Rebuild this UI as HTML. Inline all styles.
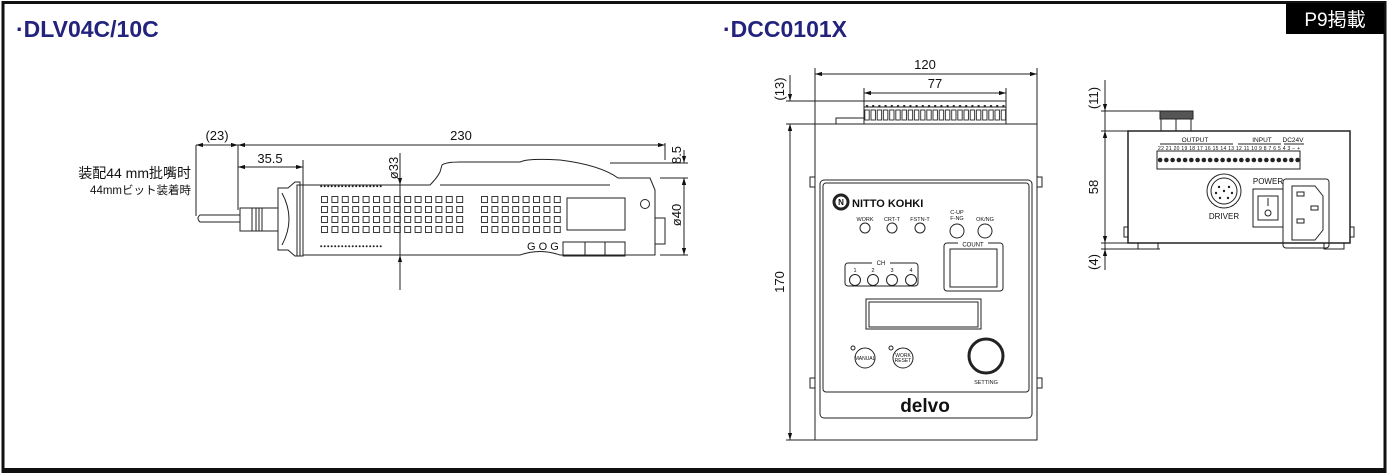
<!DOCTYPE html>
<html><head><meta charset="utf-8"><style>
html,body{margin:0;padding:0;background:#fff}
svg{display:block}
text{font-family:"Liberation Sans","Noto Sans CJK JP",sans-serif;fill:#111}
</style></head><body>
<svg width="1388" height="473" viewBox="0 0 1388 473" xmlns="http://www.w3.org/2000/svg">
<defs>
<pattern id="sq" x="321" y="196" width="10.4" height="10" patternUnits="userSpaceOnUse"><rect x="0.5" y="0.5" width="6" height="6" fill="none" stroke="#222" stroke-width="0.9"/></pattern>
<pattern id="sq2" x="481" y="196" width="10.4" height="10" patternUnits="userSpaceOnUse"><rect x="0.5" y="0.5" width="6" height="6" fill="none" stroke="#222" stroke-width="0.9"/></pattern>
<pattern id="dt" x="320" y="185" width="3.5" height="3" patternUnits="userSpaceOnUse"><circle cx="1.2" cy="1.2" r="1" fill="#222"/></pattern>
<pattern id="tb" x="864" y="104" width="6.2" height="20" patternUnits="userSpaceOnUse"><rect x="0.8" y="6" width="4.4" height="10" fill="none" stroke="#222" stroke-width="0.9"/><rect x="2" y="1" width="2" height="1.5" fill="#222"/></pattern>
<pattern id="ts" x="1157" y="151" width="6.25" height="18" patternUnits="userSpaceOnUse"><circle cx="3.1" cy="9" r="2.3" fill="#222"/></pattern>
<marker id="a" viewBox="0 0 10 10" refX="10" refY="5" markerWidth="7" markerHeight="7" orient="auto-start-reverse"><path d="M0,2 L10,5 L0,8z" fill="#111"/></marker>
</defs>
<rect x="3" y="2.5" width="1382" height="469" fill="none" stroke="#111" stroke-width="3"/>
<line x1="3" y1="469" x2="1385" y2="469" stroke="#111" stroke-width="2"/>
<rect x="1286" y="3" width="98" height="31" fill="#000"/>
<text x="1335" y="26" font-size="19" text-anchor="middle" style="fill:#fff">P9掲載</text>
<text x="16" y="37" font-size="23" font-weight="bold" style="fill:#23237e">·DLV04C/10C</text>
<text x="723" y="37" font-size="23" font-weight="bold" style="fill:#23237e">·DCC0101X</text>

<g stroke="#222" stroke-width="1" fill="none">
<line x1="196" y1="145" x2="196" y2="216"/><line x1="238" y1="145" x2="238" y2="210"/>
<line x1="196" y1="145" x2="238" y2="145" marker-start="url(#a)" marker-end="url(#a)"/>
<line x1="238" y1="145" x2="665" y2="145" marker-start="url(#a)" marker-end="url(#a)"/>
<line x1="303" y1="160" x2="303" y2="188"/>
<line x1="238" y1="167" x2="303" y2="167" marker-start="url(#a)" marker-end="url(#a)"/>
<line x1="400" y1="153" x2="400" y2="185" marker-end="url(#a)"/>
<line x1="400" y1="290" x2="400" y2="255" marker-end="url(#a)"/>
<line x1="400" y1="185" x2="400" y2="255"/>
<line x1="665" y1="143" x2="665" y2="160"/>
<line x1="610" y1="163" x2="688" y2="163"/><line x1="660" y1="178" x2="688" y2="178"/><line x1="660" y1="255" x2="688" y2="255"/>
<line x1="684" y1="150" x2="684" y2="163" marker-end="url(#a)"/>
<line x1="684" y1="190" x2="684" y2="178" marker-end="url(#a)"/>
<line x1="684" y1="178" x2="684" y2="255" marker-start="url(#a)" marker-end="url(#a)"/>
<path d="M240,215 L200,215 Q196,218 200,222 L240,222"/>
<rect x="240" y="208" width="38" height="23"/>
<line x1="252" y1="208" x2="252" y2="231"/><line x1="256" y1="208" x2="256" y2="231"/><line x1="259" y1="208" x2="259" y2="231"/><line x1="262" y1="208" x2="262" y2="231"/>
<path d="M278,188 L288,188 L295,182 L300,182 L300,256 L295,256 L288,250 L278,250 Z"/>
<path d="M282,193 Q296,219 282,245"/>
<rect x="297" y="185" width="6" height="71"/>
<path d="M303,185 L430,185 Q437,178 440,172 L442,165 Q446,162 460,162 L520,162 Q528,158 560,160 Q600,165 618,178 L650,178 L655,190 L655,255 L560,255 Q540,248 520,255 L303,255"/>
<path d="M440,185 L610,185"/>
<rect x="655" y="218" width="10" height="26"/>
<rect x="567" y="198" width="58" height="32"/>
<circle cx="645" cy="204" r="4.5"/>
<rect x="563" y="242" width="62" height="14"/>
<rect x="585" y="242" width="20" height="14"/>
</g>
<rect x="321" y="196" width="145" height="40" fill="url(#sq)"/>
<rect x="481" y="196" width="80" height="40" fill="url(#sq2)"/>
<rect x="320" y="185" width="62" height="3" fill="url(#dt)"/>
<rect x="320" y="245" width="62" height="3" fill="url(#dt)"/>
<text x="527" y="250" font-size="11">G O G</text>
<text x="217" y="140" font-size="13" text-anchor="middle">(23)</text>
<text x="461" y="140" font-size="13" text-anchor="middle">230</text>
<text x="270" y="163" font-size="13" text-anchor="middle">35.5</text>
<text transform="translate(398,168) rotate(-90)" font-size="13" text-anchor="middle">ø33</text>
<text transform="translate(681,155) rotate(-90)" font-size="13" text-anchor="middle">8.5</text>
<text transform="translate(681,215) rotate(-90)" font-size="13" text-anchor="middle">ø40</text>
<text x="191" y="178" font-size="14" text-anchor="end">装配44 mm批嘴时</text>
<text x="191" y="194" font-size="11.5" text-anchor="end">44mmビット装着時</text>

<g stroke="#222" stroke-width="1" fill="none">
<line x1="815" y1="68" x2="815" y2="124"/><line x1="1037" y1="68" x2="1037" y2="124"/>
<line x1="815" y1="74" x2="1037" y2="74" marker-start="url(#a)" marker-end="url(#a)"/>
<line x1="864" y1="88" x2="864" y2="101"/><line x1="1006" y1="88" x2="1006" y2="101"/>
<line x1="864" y1="93" x2="1006" y2="93" marker-start="url(#a)" marker-end="url(#a)"/>
<line x1="786" y1="101" x2="864" y2="101"/><line x1="786" y1="124" x2="815" y2="124"/><line x1="786" y1="440" x2="815" y2="440"/>
<line x1="790" y1="75" x2="790" y2="101"/>
<line x1="790" y1="90" x2="790" y2="101" marker-end="url(#a)"/>
<line x1="790" y1="135" x2="790" y2="124" marker-end="url(#a)"/>
<line x1="790" y1="124" x2="790" y2="440" marker-start="url(#a)" marker-end="url(#a)"/>
<rect x="815" y="124" width="222" height="316"/>
<rect x="864" y="101" width="142" height="23"/>
<line x1="864" y1="107" x2="1006" y2="107"/>
<path d="M836,124 L836,118 L864,118"/>
<path d="M810,177 h5 v10 h-5z M1037,177 h5 v10 h-5z M810,378 h5 v10 h-5z M1037,378 h5 v10 h-5z"/>
<rect x="820" y="180" width="212" height="238" rx="4"/>
<rect x="823" y="183" width="206" height="209" rx="3"/>
<circle cx="865" cy="228" r="5"/><circle cx="892" cy="228" r="5"/><circle cx="920" cy="228" r="5"/>
<circle cx="957" cy="231" r="7"/><circle cx="985" cy="231" r="7"/>
<rect x="944" y="243" width="59" height="48" rx="3"/><rect x="950" y="249" width="47" height="38"/>
<rect x="845" y="263" width="73" height="23" rx="3"/>
<circle cx="855" cy="280" r="5.5"/><circle cx="873" cy="280" r="5.5"/><circle cx="892" cy="280" r="5.5"/><circle cx="911" cy="280" r="5.5"/>
<rect x="866" y="299" width="115" height="30"/><rect x="869" y="302" width="109" height="25"/>
<circle cx="865" cy="358" r="10"/><circle cx="903" cy="358" r="10"/>
<circle cx="853" cy="348" r="2"/><circle cx="891" cy="348" r="2"/>
<circle cx="986" cy="356" r="17" stroke-width="3"/>
<circle cx="841" cy="202" r="7" stroke-width="3"/>
</g>
<rect x="864" y="104" width="142" height="20" fill="url(#tb)"/>
<g font-size="5.5" text-anchor="middle">
<text x="865" y="221">WORK</text><text x="892" y="221">CRT-T</text><text x="920" y="221">FSTN-T</text>
<text x="957" y="214">C-UP</text><text x="957" y="220">F-NG</text><text x="985" y="221">OK/NG</text>
<text x="855" y="272">1</text><text x="873" y="272">2</text><text x="892" y="272">3</text><text x="911" y="272">4</text>
<text x="865" y="360" font-size="5">MANUAL</text>
<text x="903" y="357" font-size="5">WORK</text><text x="903" y="362" font-size="5">RESET</text>
<text x="986" y="384">SETTING</text>
</g>
<rect x="958" y="241" width="30" height="5" fill="#fff"/>
<text x="973" y="246.5" font-size="6" text-anchor="middle">COUNT</text>
<rect x="872" y="261" width="18" height="5" fill="#fff"/>
<text x="881" y="265" font-size="6" text-anchor="middle">CH</text>
<text x="841" y="205" font-size="8" text-anchor="middle" font-weight="bold">N</text>
<text x="852" y="207" font-size="11" font-weight="bold">NITTO KOHKI</text>
<text x="925" y="412" font-size="19" font-weight="bold" text-anchor="middle">delvo</text>
<text x="925" y="69" font-size="13" text-anchor="middle">120</text>
<text x="935" y="88" font-size="13" text-anchor="middle">77</text>
<text transform="translate(784,89) rotate(-90)" font-size="13" text-anchor="middle">(13)</text>
<text transform="translate(784,282) rotate(-90)" font-size="13" text-anchor="middle">170</text>

<g stroke="#222" stroke-width="1" fill="none">
<line x1="1101" y1="111" x2="1160" y2="111"/><line x1="1101" y1="131" x2="1130" y2="131"/>
<line x1="1101" y1="243" x2="1130" y2="243"/><line x1="1101" y1="249" x2="1160" y2="249"/>
<line x1="1105" y1="80" x2="1105" y2="270"/>
<line x1="1105" y1="100" x2="1105" y2="111" marker-end="url(#a)"/>
<line x1="1105" y1="140" x2="1105" y2="131" marker-end="url(#a)"/>
<line x1="1105" y1="131" x2="1105" y2="243" marker-start="url(#a)" marker-end="url(#a)"/>
<line x1="1105" y1="258" x2="1105" y2="249" marker-end="url(#a)"/>
<rect x="1128" y="131" width="222" height="112" stroke-width="1.5"/>
<rect x="1160" y="111" width="33" height="8" fill="#555"/>
<rect x="1161" y="119" width="15" height="12"/><rect x="1176" y="119" width="15" height="12"/>
<rect x="1157" y="151" width="143" height="18"/>
<path d="M1160,144 h73 M1238,144 h43 M1284,144 h20"/>
<circle cx="1224" cy="191" r="17"/><circle cx="1224" cy="191" r="13"/>
<rect x="1253" y="189" width="30" height="38"/><rect x="1258" y="196" width="20" height="24"/>
<line x1="1268" y1="198" x2="1268" y2="206"/><circle cx="1268" cy="213" r="3"/>
<rect x="1283" y="179" width="46" height="69" rx="3"/>
<path d="M1292,186 h23 l8,10 v34 l-8,10 h-23 z"/>
<rect x="1297" y="192" width="7" height="4"/><rect x="1311" y="206" width="7" height="4"/><rect x="1297" y="219" width="7" height="4"/>
<rect x="1138" y="243" width="20" height="6"/><rect x="1324" y="243" width="20" height="6"/>
<path d="M1128,227 h-4 v10 h4 M1350,227 h4 v10 h-4"/>
</g>
<rect x="1157" y="151" width="143" height="18" fill="url(#ts)"/>
<g fill="#222"><circle cx="1219" cy="187" r="1.2"/><circle cx="1229" cy="187" r="1.2"/><circle cx="1216" cy="193" r="1.2"/><circle cx="1224" cy="191" r="1.2"/><circle cx="1232" cy="193" r="1.2"/><circle cx="1220" cy="198" r="1.2"/><circle cx="1228" cy="198" r="1.2"/></g>
<text x="1195" y="142" font-size="6.5" text-anchor="middle">OUTPUT</text>
<text x="1262" y="142" font-size="6.5" text-anchor="middle">INPUT</text>
<text x="1293" y="142" font-size="6.5" text-anchor="middle">DC24V</text>
<text x="1158" y="150" font-size="5" textLength="142">22 21 20 19 18 17 16 15 14 13 12 11 10 9 8 7 6 5 4 3 − +</text>
<text x="1224" y="219" font-size="8" text-anchor="middle">DRIVER</text>
<text x="1268" y="184" font-size="8" text-anchor="middle">POWER</text>
<text transform="translate(1098,98) rotate(-90)" font-size="13" text-anchor="middle">(11)</text>
<text transform="translate(1098,187) rotate(-90)" font-size="13" text-anchor="middle">58</text>
<text transform="translate(1098,262) rotate(-90)" font-size="13" text-anchor="middle">(4)</text>
</svg>
</body></html>
